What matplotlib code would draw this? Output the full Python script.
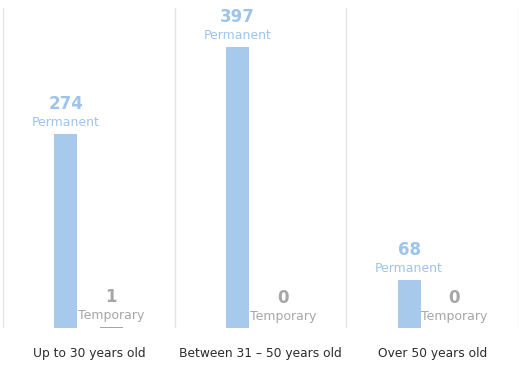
import numpy as np
import matplotlib.pyplot as plt

groups = ["Up to 30 years old", "Between 31 – 50 years old", "Over 50 years old"]
permanent = [274, 397, 68]
temporary = [1, 0, 0]

BLUE = "#a7c9ec"
BLUE_TXT = "#9fc4ea"
GRAY = "#a6a6a6"


def label_bar(ax, x, val, name, color):
    ax.annotate(str(val), (x, val), xytext=(0, 21.5), textcoords="offset points",
                ha="center", va="center", fontsize=12, fontweight="bold", color=color)
    ax.annotate(name, (x, val), xytext=(0, 8.3), textcoords="offset points",
                ha="center", va="center", fontsize=9, color=color)


def main():
    fig = plt.figure(figsize=(5.25, 3.88), dpi=100)
    # axes spans x 3..518 px, y 8..328 px
    ax = fig.add_axes([3 / 525, 60 / 388, 515 / 525, 320 / 388])

    x = np.arange(len(groups))
    w = 0.134
    ax.bar(x - 0.134, permanent, width=w, color=BLUE)
    ax.bar(x + 0.13, temporary, width=w, color=GRAY)

    for i in range(len(groups)):
        label_bar(ax, x[i] - 0.134, permanent[i], "Permanent", BLUE_TXT)
        label_bar(ax, x[i] + 0.13, temporary[i], "Temporary", GRAY)

    for sep in [-0.5, 0.5, 1.5, 2.5]:
        ax.axvline(sep, color="#e4e4e4", lw=1)

    ax.set_xlim(-0.5, 2.5)
    ax.set_ylim(0, 452)
    ax.set_xticks(x)
    ax.set_xticklabels(groups, fontsize=8.8, color="#2b2b2b")
    ax.tick_params(axis="x", length=0, pad=14)
    ax.set_yticks([])
    for s in ax.spines.values():
        s.set_visible(False)

    fig.savefig("out.png", dpi=100)


if __name__ == "__main__":
    main()
